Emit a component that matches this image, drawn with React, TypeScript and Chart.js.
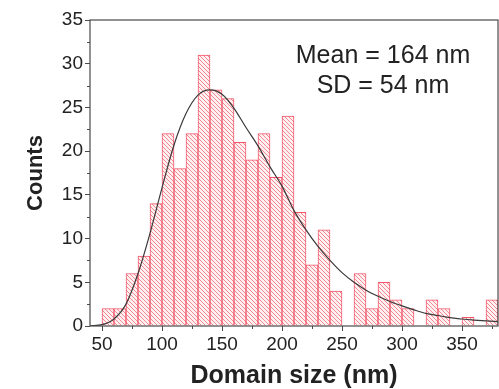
import { useEffect, useRef } from 'react';
import { Chart, registerables } from 'chart.js';

Chart.register(...registerables);

// Histogram bins (nm): left edge of each 10 nm bin
const binStarts = [
  50, 60, 70, 80, 90, 100, 110, 120, 130, 140, 150, 160, 170, 180, 190, 200,
  210, 220, 230, 240, 250, 260, 270, 280, 290, 300, 310, 320, 330, 340, 350, 360, 370,
];
const binWidth = 10;
const counts = [
  2, 2, 6, 8, 14, 22, 18, 22, 31, 27, 26, 21, 19, 22, 17, 24,
  13, 7, 11, 4, 0, 6, 2, 5, 3, 2, 0, 3, 2, 0, 1, 0, 3,
];

// Fitted size distribution curve
const fitX = [
  40, 50, 60, 70, 80, 90, 100, 110, 120, 130, 140, 150, 160, 170, 180, 190, 200,
  210, 220, 230, 240, 250, 260, 270, 280, 290, 300, 310, 320, 330, 340, 350, 360, 370, 380,
];
const fitY = [
  0.02, 0.15, 0.8, 2.5, 6.0, 10.6, 15.8, 20.7, 24.3, 26.4, 27.0, 26.5, 24.9, 22.7, 20.6, 18.2, 16.0,
  13.2, 11.0, 9.1, 7.5, 6.1, 5.0, 4.1, 3.4, 2.8, 2.3, 1.85, 1.45, 1.2, 0.95, 0.8, 0.68, 0.58, 0.5,
];

const xMajorTicks = [50, 100, 150, 200, 250, 300, 350];
const xMinorTicks = [75, 125, 175, 225, 275, 325, 375];
const yMinorTicks = [2.5, 7.5, 12.5, 17.5, 22.5, 27.5, 32.5];
const statLines = ['Mean = 164 nm', 'SD = 54 nm'];

const FONT = '"Liberation Sans", Arial, Helvetica, sans-serif';
const AXIS_COLOR = '#4a4a4a';
const TEXT_COLOR = '#222222';

function makeHatch(): CanvasPattern | string {
  const s = 4;
  const c = document.createElement('canvas');
  c.width = s;
  c.height = s;
  const g = c.getContext('2d');
  if (!g) return 'rgba(255,200,205,0.5)';
  g.fillStyle = 'rgb(255,240,242)';
  g.fillRect(0, 0, s, s);
  g.strokeStyle = 'rgba(240,120,130,0.85)';
  g.lineWidth = 1;
  g.beginPath();
  g.moveTo(-1, -1);
  g.lineTo(s + 1, s + 1);
  g.moveTo(s - 1, -1);
  g.lineTo(s + 1, 1);
  g.moveTo(-1, s - 1);
  g.lineTo(1, s + 1);
  g.stroke();
  const p = g.createPattern(c, 'repeat');
  return p ?? 'rgba(255,200,205,0.5)';
}

// Frame around the plot, minor ticks and the statistics text
const decorations = {
  id: 'decorations',
  afterDraw(chart: any) {
    const { ctx, chartArea, scales } = chart;
    const { left, right, top, bottom } = chartArea;
    ctx.save();
    ctx.strokeStyle = AXIS_COLOR;
    ctx.lineWidth = 1.2;
    ctx.strokeRect(left, top, right - left, bottom - top);

    ctx.lineWidth = 1;
    ctx.beginPath();
    for (const v of yMinorTicks) {
      const y = Math.round(scales.y.getPixelForValue(v)) + 0.5;
      ctx.moveTo(left, y);
      ctx.lineTo(left - 3, y);
    }
    for (const v of xMinorTicks) {
      const x = Math.round(scales.x.getPixelForValue(v)) + 0.5;
      ctx.moveTo(x, bottom);
      ctx.lineTo(x, bottom + 3);
    }
    ctx.stroke();

    ctx.fillStyle = TEXT_COLOR;
    ctx.font = `25px ${FONT}`;
    ctx.textAlign = 'center';
    ctx.textBaseline = 'alphabetic';
    const cx = right - 115;
    statLines.forEach((t, i) => {
      ctx.fillText(t, cx, top + 43 + i * 30);
    });
    ctx.restore();
  },
};

export default function App() {
  const canvasRef = useRef<HTMLCanvasElement | null>(null);

  useEffect(() => {
    const canvas = canvasRef.current;
    if (!canvas) return;
    const hatch = makeHatch();

    const chart = new Chart(canvas, {
      type: 'bar',
      data: {
        datasets: [
          {
            type: 'line',
            data: fitX.map((x, i) => ({ x, y: fitY[i] })),
            borderColor: '#3a3a3a',
            borderWidth: 1.2,
            pointRadius: 0,
            fill: false,
            cubicInterpolationMode: 'monotone',
            order: 0,
          } as any,
          {
            type: 'bar',
            data: binStarts.map((b, i) => ({ x: b + binWidth / 2, y: counts[i] })),
            backgroundColor: hatch as any,
            borderColor: 'rgb(245,85,105)',
            borderWidth: 1,
            barPercentage: 1,
            categoryPercentage: 1,
            grouped: false,
            order: 1,
          } as any,
        ],
      },
      options: {
        animation: false,
        responsive: true,
        maintainAspectRatio: false,
        layout: { padding: { top: 20, right: 1, left: 0, bottom: 0 } },
        plugins: {
          legend: { display: false },
          tooltip: { enabled: false },
        },
        scales: {
          x: {
            type: 'linear',
            min: 40,
            max: 380,
            offset: false,
            afterBuildTicks: (scale: any) => {
              scale.ticks = xMajorTicks.map((v) => ({ value: v }));
            },
            afterFit: (scale: any) => {
              scale.height = 63;
            },
            grid: {
              offset: false,
              drawOnChartArea: false,
              drawTicks: true,
              tickLength: 5,
              color: AXIS_COLOR,
            },
            border: { display: false },
            ticks: {
              color: TEXT_COLOR,
              font: { family: FONT, size: 19 },
              padding: 2,
              maxRotation: 0,
              autoSkip: false,
            },
            title: {
              display: true,
              text: 'Domain size (nm)',
              color: TEXT_COLOR,
              font: { family: FONT, size: 25, weight: 'bold', lineHeight: 1 },
              padding: { top: 0, bottom: 0 },
            },
          },
          y: {
            type: 'linear',
            min: 0,
            max: 35,
            afterFit: (scale: any) => {
              scale.width = 90;
            },
            grid: {
              drawOnChartArea: false,
              drawTicks: true,
              tickLength: 5,
              color: AXIS_COLOR,
            },
            border: { display: false },
            ticks: {
              stepSize: 5,
              color: TEXT_COLOR,
              font: { family: FONT, size: 19 },
              padding: 2,
            },
            title: {
              display: true,
              text: 'Counts',
              color: TEXT_COLOR,
              font: { family: FONT, size: 22, weight: 'bold', lineHeight: 1.2 },
              padding: { top: 23, bottom: 0 },
            },
          },
        },
      } as any,
      plugins: [decorations],
    });

    return () => chart.destroy();
  }, []);

  return (
    <div style={{ position: 'fixed', left: 0, top: 0, width: 499, height: 389, background: '#ffffff' }}>
      <canvas ref={canvasRef} />
    </div>
  );
}
